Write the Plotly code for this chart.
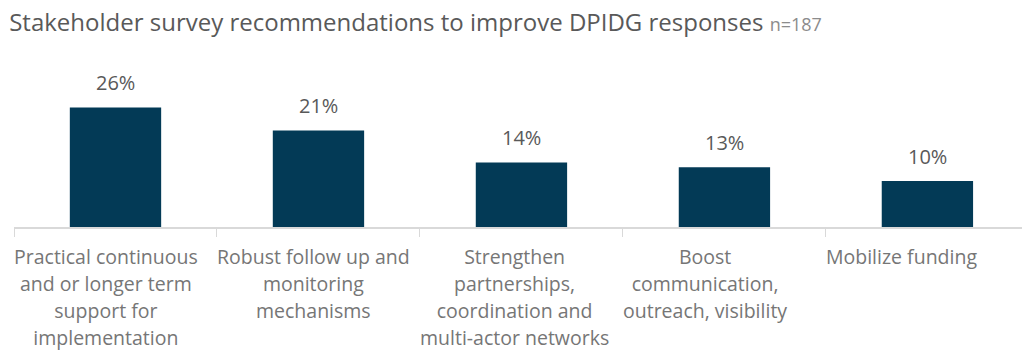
import plotly.graph_objects as go

# Survey results: share of respondents per recommendation
categories = [
    "Practical continuous<br>and or longer term<br>support for<br>implementation",
    "Robust follow up and<br>monitoring<br>mechanisms",
    "Strengthen<br>partnerships,<br>coordination and<br>multi-actor networks",
    "Boost<br>communication,<br>outreach, visibility",
    "Mobilize funding",
]
shares = [26, 21, 14, 13, 10]
value_labels = ["26%", "21%", "14%", "13%", "10%"]

BAR_COLOR = "#033a56"
FONT = "Open Sans"
LABEL_GREY = "#767676"

fig = go.Figure(
    go.Bar(
        x=list(range(len(categories))),
        y=shares,
        marker=dict(color=BAR_COLOR, line=dict(width=0)),
        width=0.45,
        cliponaxis=False,
        hoverinfo="skip",
    )
)

# Value labels placed above each bar
for i, (val, lab) in enumerate(zip(shares, value_labels)):
    fig.add_annotation(
        x=i,
        y=val,
        text=lab,
        showarrow=False,
        yanchor="middle",
        yshift=25,
        font=dict(family=FONT, size=20, color="#595959"),
    )

# Category labels: each block starts at the left boundary of its slot,
# lines centred within the block
for i, cat in enumerate(categories):
    lines = cat.split("<br>")
    text = "<br>".join(f"<span style='font-size:19.5px'>{ln}</span>" for ln in lines)
    fig.add_annotation(
        x=i - 0.5,
        y=0,
        text=text,
        showarrow=False,
        xanchor="left",
        yanchor="top",
        align="center",
        xshift=-2,
        yshift=-14,
        font=dict(family=FONT, size=20.8, color=LABEL_GREY),
    )

fig.update_layout(
    width=1022,
    height=350,
    margin=dict(l=14, r=0, t=89, b=123),
    paper_bgcolor="white",
    plot_bgcolor="white",
    showlegend=False,
    title=dict(
        text="Stakeholder survey recommendations to improve DPIDG responses "
             "<span style='font-size:18px;color:#8c8c8c'>n=187</span>",
        x=0.009,
        xanchor="left",
        y=0.935,
        yanchor="middle",
        font=dict(family=FONT, size=24, color="#595959"),
    ),
    font=dict(family=FONT),
)

fig.update_xaxes(
    type="linear",
    range=[-0.5, 4.466],
    showline=True,
    linecolor="#d9d9d9",
    linewidth=2,
    ticks="outside",
    tickmode="array",
    tickvals=[-0.5, 0.5, 1.5, 2.5, 3.5],
    ticklen=8,
    tickcolor="#d9d9d9",
    tickwidth=1,
    showticklabels=False,
    showgrid=False,
    zeroline=False,
)
fig.update_yaxes(
    range=[0, 30],
    visible=False,
    showgrid=False,
)

fig.write_html("out.html")
